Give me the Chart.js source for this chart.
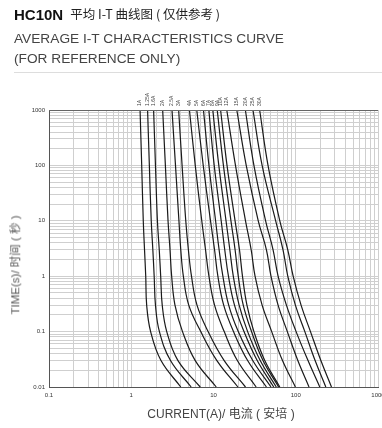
<!DOCTYPE html>
<html>
<head>
<meta charset="utf-8">
<script src="https://cdn.jsdelivr.net/npm/chart.js@4.4.0/dist/chart.umd.min.js"></script>
<style>
  html, body { margin:0; padding:0; background:#fff; }
  body { width:382px; height:428px; position:relative; overflow:hidden; font-family:"Liberation Sans", Arial, sans-serif; }
  #c { position:absolute; left:0; top:0; }
  .t { position:absolute; white-space:nowrap; line-height:1; }
</style>
</head>
<body>
<canvas id="c" width="382" height="428"></canvas>
<div class="t" style="left:14px;top:7px;font-size:15px;font-weight:bold;color:#111;">HC10N<span style="font-weight:normal;font-size:12.5px;margin-left:7px;font-family:'Noto Sans CJK SC','Liberation Sans',sans-serif;color:#222;position:relative;top:-1px;">平均 I-T 曲线图 ( 仅供参考 )</span></div>
<div class="t" style="left:14px;top:32px;font-size:13.7px;color:#444;">AVERAGE I-T CHARACTERISTICS CURVE</div>
<div class="t" style="left:14px;top:52px;font-size:13.7px;color:#444;">(FOR REFERENCE ONLY)</div>
<div style="position:absolute;left:14px;top:72px;width:368px;height:1px;background:#ddd;"></div>
<div class="t" style="left:16px;top:265px;font-size:11.5px;color:#555;transform:translate(-50%,-50%) rotate(-90deg);font-family:'Liberation Sans','Noto Sans CJK SC',sans-serif;">TIME(s)/ 时间 ( 秒 )</div>
<div class="t" style="left:221px;top:414px;font-size:12px;color:#444;transform:translate(-50%,-50%);font-family:'Liberation Sans','Noto Sans CJK SC',sans-serif;">CURRENT(A)/ 电流 ( 安培 )</div>
<script>
// time points (s) at which each curve's current is read
const times = [1000, 100, 10, 3, 1, 0.3, 0.1, 0.03, 0.01];
// rated-current labels shown at top of each curve
const ratingLabels = ["1A","1.25A","1.6A","2A","2.5A","3A","4A","5A","6A","7A","8A","9A","10A","12A","15A","20A","25A","30A"];
// currents (A) for each curve, at the times above
const c1A   = [1.28, 1.34, 1.40, 1.45, 1.50, 1.54, 1.72, 2.3, 4.0];
const c125A = [1.58, 1.66, 1.75, 1.83, 1.90, 1.97, 2.2, 3.0, 5.35];
const c16A  = [1.87, 1.97, 2.08, 2.19, 2.28, 2.38, 2.7, 3.7, 6.9];
const c2A   = [2.41, 2.6, 2.8, 2.96, 3.1, 3.4, 4.2, 6.0, 10.8];
const c25A  = [3.13, 3.45, 3.8, 4.0, 4.3, 5.0, 7.0, 11, 19.8];
const c3A   = [3.77, 4.15, 4.6, 4.95, 5.4, 6.3, 8.6, 13.5, 24.5];
const c4A   = [5.1, 6.0, 7.2, 8.0, 8.8, 10.3, 13.5, 19.5, 33];
const c5A   = [6.26, 7.5, 9.2, 10.3, 11.3, 13.3, 17.5, 26, 44];
const c6A   = [7.55, 8.8, 10.6, 11.7, 13, 15.3, 20, 30, 50];
const c7A   = [8.77, 10.2, 12.4, 13.7, 15.2, 18, 23.5, 34, 54];
const c8A   = [9.8, 11.6, 14.2, 15.8, 17.4, 20.5, 26, 37, 58];
const c9A   = [11.1, 13.2, 16.3, 18.3, 20, 23, 29, 40, 62];
const c10A  = [12.2, 14.6, 18.3, 20.7, 22.5, 25.5, 31, 42, 64];
const c12A  = [14.5, 18.5, 24.5, 28.7, 32, 39, 51, 69, 99];
const c15A  = [19.2, 25, 35, 44, 50, 61, 79, 106, 145];
const c20A  = [24.4, 31, 43, 53, 61, 77, 101, 141, 196];
const c25Ab = [30.2, 39, 57, 70, 80, 99, 129, 172, 232];
const c30A  = [36.4, 46, 64, 80, 93, 116, 151, 202, 272];
const curves = [c1A, c125A, c16A, c2A, c25A, c3A, c4A, c5A, c6A, c7A, c8A, c9A, c10A, c12A, c15A, c20A, c25Ab, c30A];
// axis ranges and labelled ticks
const xRange = [0.1, 1000];
const yRange = [0.01, 1000];
const xTickLabels = ["0.1", "1", "10", "100", "1000"];
const yTickLabels = ["0.01", "0.1", "1", "10", "100", "1000"];

function logTicks(min, max) {
  const out = [];
  for (let e = Math.round(Math.log10(min)); e < Math.round(Math.log10(max)); e++) {
    for (let m = 1; m <= 9; m++) out.push({ value: parseFloat((m * Math.pow(10, e)).toPrecision(6)) });
  }
  out.push({ value: max });
  return out;
}
function labelFor(list) {
  return function (v) {
    const s = String(parseFloat(Number(v).toPrecision(6)));
    return list.includes(s) ? s : '';
  };
}
function fixFit(size, prop) {
  return function (scale) {
    scale[prop] = size;
    scale.paddingLeft = 0; scale.paddingRight = 0; scale.paddingTop = 0; scale.paddingBottom = 0;
  };
}

const datasets = curves.map((arr, i) => ({
  label: ratingLabels[i],
  data: arr.map((cur, j) => ({ x: cur, y: times[j] })),
  borderColor: '#1a1a1a',
  borderWidth: 1.2,
  pointRadius: 0,
  tension: 0.4,
  fill: false,
  clip: 2
}));

const topLabels = {
  id: 'topLabels',
  afterDraw(chart) {
    const ctx = chart.ctx, xs = chart.scales.x, area = chart.chartArea;
    ctx.save();
    ctx.fillStyle = '#444';
    ctx.font = '5px "Liberation Sans", Arial, sans-serif';
    ctx.textAlign = 'left';
    ctx.textBaseline = 'middle';
    chart.data.datasets.forEach(ds => {
      const px = xs.getPixelForValue(ds.data[0].x);
      ctx.save();
      ctx.translate(px, area.top - 4);
      ctx.rotate(-Math.PI / 2);
      ctx.fillText(ds.label, 0, 0);
      ctx.restore();
    });
    ctx.strokeStyle = '#666';
    ctx.lineWidth = 1;
    ctx.beginPath();
    ctx.moveTo(area.left, Math.round(area.top) + 0.5);
    ctx.lineTo(area.right, Math.round(area.top) + 0.5);
    ctx.stroke();
    ctx.restore();
  }
};

new Chart(document.getElementById('c'), {
  type: 'line',
  data: { datasets },
  plugins: [topLabels],
  options: {
    responsive: false,
    animation: false,
    events: [],
    layout: { padding: { top: 110, right: 4, left: 0, bottom: 0 } },
    plugins: { legend: { display: false }, tooltip: { enabled: false }, title: { display: false } },
    scales: {
      x: {
        type: 'logarithmic',
        min: xRange[0], max: xRange[1],
        afterBuildTicks: s => { s.ticks = logTicks(xRange[0], xRange[1]); },
        afterFit: fixFit(41, 'height'),
        ticks: { autoSkip: false, maxRotation: 0, padding: 5, color: '#333', font: { size: 6 }, callback: labelFor(xTickLabels) },
        grid: { color: '#cfcfcf', lineWidth: 1, drawTicks: false },
        border: { display: true, color: '#555', width: 1 }
      },
      y: {
        type: 'logarithmic',
        min: yRange[0], max: yRange[1],
        afterBuildTicks: s => { s.ticks = logTicks(yRange[0], yRange[1]); },
        afterFit: fixFit(49, 'width'),
        ticks: { autoSkip: false, padding: 4, color: '#333', font: { size: 6 }, callback: labelFor(yTickLabels) },
        grid: { color: '#cfcfcf', lineWidth: 1, drawTicks: false },
        border: { display: true, color: '#555', width: 1 }
      }
    }
  }
});
</script>
</body>
</html>
